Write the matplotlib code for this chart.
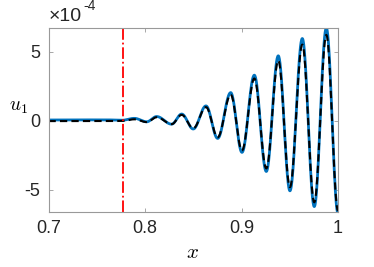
import numpy as np
import matplotlib
matplotlib.use('Agg')
import matplotlib.pyplot as plt

# extrema of the two curves (x, value in 1e-4)
x_ext = [0.700, 0.760, 0.776, 0.789, 0.8017, 0.8121, 0.8276, 0.8380, 0.8500, 0.8632,
         0.8753, 0.8888, 0.9005, 0.9133, 0.9257, 0.9381, 0.9502, 0.9630, 0.9754, 0.9879, 1.000]
u_blue = [0.05, 0.06, 0.03, 0.17, -0.08, 0.30, -0.25, 0.48, -0.60, 1.07,
          -1.28, 2.03, -2.29, 3.29, -3.67, 4.69, -5.07, 5.94, -6.21, 6.70, -6.70]
u_black = [-0.03, -0.03, -0.02, 0.10, -0.10, 0.25, -0.25, 0.42, -0.55, 0.98,
           -1.20, 1.88, -2.15, 3.05, -3.45, 4.35, -4.80, 5.50, -5.90, 6.20, -6.50]
x_mark = 0.7775
scale = 1e-4


def smooth(xs, ys, n=40):
    # half-cosine segment between consecutive extrema
    xo, yo = [], []
    for i in range(len(xs) - 1):
        t = np.linspace(0, 1, n, endpoint=False)
        xo.append(xs[i] + (xs[i + 1] - xs[i]) * t)
        yo.append(ys[i] + (ys[i + 1] - ys[i]) * (1 - np.cos(np.pi * t)) / 2)
    xo.append([xs[-1]])
    yo.append([ys[-1]])
    return np.concatenate(xo), np.concatenate(yo) * scale


plt.rcParams['font.family'] = ['Liberation Sans', 'DejaVu Sans']
plt.rcParams['mathtext.fontset'] = 'cm'

fig = plt.figure(figsize=(3.74, 2.67), dpi=100)
ax = fig.add_axes([48.5 / 374, 55 / 267, 289.5 / 374, 184 / 267])

xb, yb = smooth(x_ext, u_blue)
xk, yk = smooth(x_ext, u_black)
ax.plot(xb, yb, color='#0072BD', lw=2.0, solid_capstyle='butt')
ax.plot(xk, yk, color='k', lw=1.5, ls=(0, (3.5, 2)))
ax.axvline(x_mark, color='r', lw=1.3, ls='-.')

ax.set_xlim(0.7, 1.0)
ax.set_ylim(-6.6e-4, 6.7e-4)
ax.set_xticks([0.7, 0.8, 0.9, 1.0])
ax.set_xticklabels(['0.7', '0.8', '0.9', '1'])
ax.set_yticks([-5e-4, 0, 5e-4])
ax.set_yticklabels(['-5', '0', '5'])
ax.tick_params(direction='in', length=3, width=0.6, top=True, right=True,
               labelsize=13, colors='0.6', labelcolor='#262626', pad=6)
for s in ax.spines.values():
    s.set_color('0.6')
    s.set_linewidth(0.8)

ax.text(0.0, 1.015, '×10', transform=ax.transAxes, fontsize=14, color='#262626',
        ha='left', va='bottom')
ax.text(0.122, 1.08, '-4', transform=ax.transAxes, fontsize=10, color='#262626',
        ha='left', va='bottom')
fig.text(18 / 374, 1 - 107 / 267, r'$u_1$', fontsize=14, ha='center', va='center')
fig.text(193 / 374, 1 - 253 / 267, r'$x$', fontsize=15, ha='center', va='center')

fig.savefig('out.png', dpi=100)
